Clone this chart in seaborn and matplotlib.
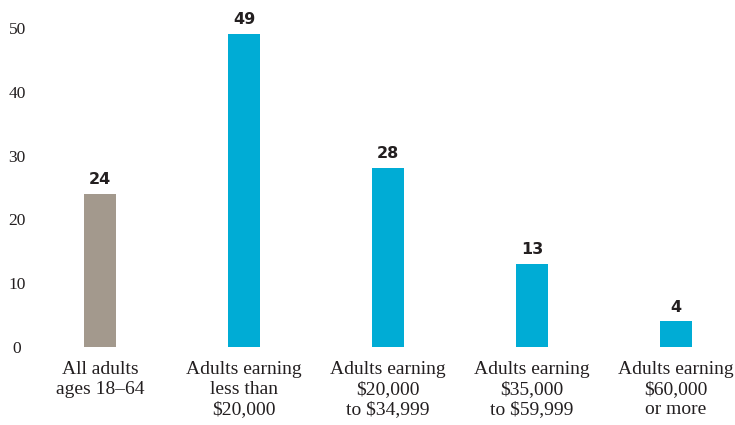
import matplotlib
matplotlib.use("Agg")
import matplotlib.pyplot as plt
import seaborn as sns
import pandas as pd

categories = [
    "All adults\nages 18\u201364",
    "Adults earning\nless than\n$20,000",
    "Adults earning\n$20,000\nto $34,999",
    "Adults earning\n$35,000\nto $59,999",
    "Adults earning\n$60,000\nor more",
]
values = [24, 49, 28, 13, 4]
bar_colors = ["#a3998d", "#00acd5", "#00acd5", "#00acd5", "#00acd5"]
y_ticks = [0, 10, 20, 30, 40, 50]

sns.set_theme(style="white")
plt.rcParams["font.family"] = ["Liberation Serif", "DejaVu Serif"]

df = pd.DataFrame({"group": categories, "pct": values})

fig = plt.figure(figsize=(7.35, 4.25), dpi=100)
ax = fig.add_axes([40 / 735, 78 / 425, 695 / 735, 337 / 425])

sns.barplot(data=df, x="group", y="pct", hue="group", palette=bar_colors,
            width=0.225, legend=False, ax=ax, saturation=1, linewidth=0)

for container in ax.containers:
    ax.bar_label(container, fmt="%d", padding=5, fontsize=11.5,
                 fontweight="bold", color="#231f20",
                 family=["DejaVu Sans"])

ax.set_xlim(-60 / 144, 635 / 144)
ax.set_ylim(0, 337 / 6.38)
ax.set_yticks(y_ticks)
ax.set_yticklabels([str(t) for t in y_ticks], fontsize=12.5, color="#231f20",
                   ha="center")
ax.tick_params(axis="y", length=0, pad=16.5)
ax.tick_params(axis="x", length=0, pad=10, labelsize=14, colors="#231f20")
for lbl in ax.get_xticklabels():
    lbl.set_linespacing(1.22)
ax.set_xlabel("")
ax.set_ylabel("")
for s in ax.spines.values():
    s.set_visible(False)

fig.savefig("out.png", dpi=100)
